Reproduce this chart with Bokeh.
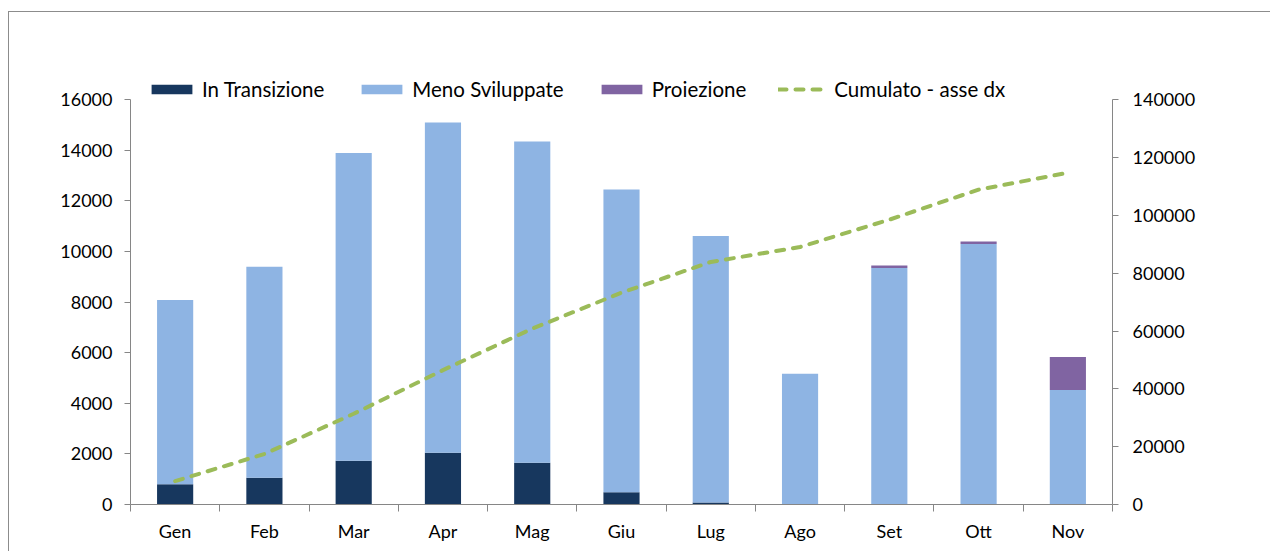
from bokeh.plotting import figure
from bokeh.models import (ColumnDataSource, Range1d, LinearAxis, FixedTicker, Legend,
                          LegendItem, InlineStyleSheet, BasicTickFormatter)
from bokeh.embed import file_html
from bokeh.resources import INLINE

months = ["Gen", "Feb", "Mar", "Apr", "Mag", "Giu", "Lug", "Ago", "Set", "Ott", "Nov"]
in_transizione = [800, 1060, 1730, 2050, 1650, 480, 80, 20, 0, 0, 0]
meno_sviluppate = [7280, 8340, 12170, 13050, 12700, 11970, 10540, 5150, 9350, 10300, 4530]
proiezione = [0, 0, 0, 0, 0, 0, 0, 0, 100, 100, 1300]
cumulato = [8080, 17480, 31380, 46480, 60830, 73280, 83900, 89070, 98520, 108920, 114750]

left_ticks = [0, 2000, 4000, 6000, 8000, 10000, 12000, 14000, 16000]
right_ticks = [0, 20000, 40000, 60000, 80000, 100000, 120000, 140000]

FONT = "Lato"
FS = "18px"
LFS = "20.5px"
AXC = "#868686"

xs = [i + 0.5 for i in range(len(months))]
src = ColumnDataSource(dict(x=xs, trans=in_transizione, meno=meno_sviluppate,
                            proi=proiezione, cum=cumulato))

# frame extends above the top tick so that the legend (inside) is not clipped
p = figure(width=1270, height=551, output_backend="svg", toolbar_location=None,
           x_range=Range1d(0, len(months)), y_range=Range1d(0, 17000),
           min_border_left=130, min_border_right=158, min_border_top=74,
           min_border_bottom=47)
p.outline_line_color = None
p.xgrid.visible = False
p.ygrid.visible = False
p.background_fill_color = "white"
p.border_fill_color = "white"

p.extra_y_ranges = {"dx": Range1d(0, 148750)}

bars = p.vbar_stack(["trans", "meno", "proi"], x="x", width=0.405, source=src,
                    color=["#17375E", "#8EB4E3", "#8064A2"], line_color=None)
line = p.line("x", "cum", source=src, y_range_name="dx", line_color="#9BBB59",
              line_width=4, line_dash="8 9", line_cap="round")

# x axis
xa = p.xaxis[0]
xa.ticker = FixedTicker(ticks=xs, minor_ticks=list(range(len(months) + 1)))
xa.major_label_overrides = {x: m for x, m in zip(xs, months)}
xa.major_tick_out = 0
xa.major_tick_in = 0
xa.minor_tick_out = 7
xa.minor_tick_in = 0
xa.minor_tick_line_color = AXC
xa.axis_line_color = AXC
xa.major_label_standoff = 8

# left axis
ya = p.yaxis[0]
ya.ticker = FixedTicker(ticks=left_ticks)
ya.formatter = BasicTickFormatter(use_scientific=False)
ya.bounds = (0, 16000)
ya.major_tick_out = 6
ya.major_tick_in = 0
ya.minor_tick_line_color = None
ya.axis_line_color = AXC
ya.major_tick_line_color = AXC
ya.major_label_standoff = 12

# right axis
ra = LinearAxis(y_range_name="dx", ticker=FixedTicker(ticks=right_ticks),
                formatter=BasicTickFormatter(use_scientific=False), bounds=(0, 140000))
ra.major_tick_out = 6
ra.major_tick_in = 0
ra.minor_tick_line_color = None
ra.axis_line_color = AXC
ra.major_tick_line_color = AXC
ra.major_label_standoff = 14
p.add_layout(ra, "right")

for ax in [xa, ya, ra]:
    ax.major_label_text_font = FONT
    ax.major_label_text_font_size = FS
    ax.major_label_text_color = "#000000"

legend = Legend(items=[
    LegendItem(label="In Transizione", renderers=[bars[0]]),
    LegendItem(label="Meno Sviluppate", renderers=[bars[1]]),
    LegendItem(label="Proiezione", renderers=[bars[2]]),
    LegendItem(label="Cumulato - asse dx", renderers=[line]),
], orientation="horizontal", location=(16, 403), padding=0, margin=0,
    border_line_color=None, background_fill_alpha=0, glyph_width=51, glyph_height=12,
    label_standoff=5, spacing=32, label_text_font=FONT, label_text_font_size=LFS,
    label_text_color="#000000")
p.add_layout(legend, "center")

p.stylesheets = [InlineStyleSheet(css="""
:host { overflow: hidden; }
:host::after { content: ''; position: absolute; left: 8px; top: 11px; right: -10px;
  bottom: -10px; border: 1px solid #8c8c8c; pointer-events: none; }
""")]

open("out.html", "w").write(file_html(p, INLINE))
